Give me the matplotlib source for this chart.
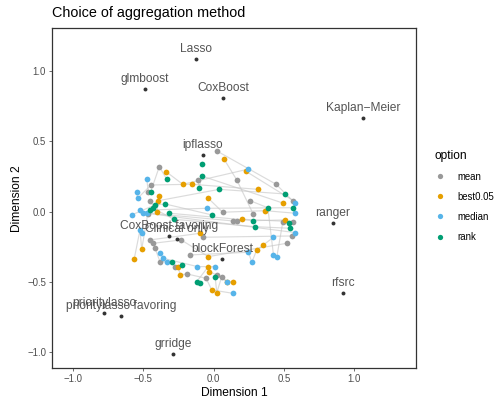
import numpy as np
import matplotlib
matplotlib.use('Agg')
import matplotlib.pyplot as plt
from matplotlib.lines import Line2D

plt.rcParams['font.family'] = ['Liberation Sans', 'DejaVu Sans']

# Labelled single methods (dark points)
method_names = ['Lasso', 'glmboost', 'CoxBoost', 'Kaplan\u2212Meier', 'ipflasso', 'ranger',
                'rfsrc', 'prioritylasso', 'prioritylasso favoring', 'grridge',
                'CoxBoost favoring', 'Clinical only', 'blockForest']
method_x = [-0.125, -0.49, 0.07, 1.066, -0.077, 0.846, 0.917, -0.78, -0.66, -0.286, -0.315, -0.258, 0.06]
method_y = [1.09, 0.87, 0.81, 0.667, 0.404, -0.08, -0.58, -0.72, -0.745, -1.016, -0.17, -0.196, -0.335]

# Aggregated combinations, one set per option (group = connected combos, 0 = none)
mean_x = [0.027, -0.386, -0.112, 0.165, 0.445, 0.568, -0.452, -0.464, 0.26, 0.065, 0.283, 0.137, 0.165,
          0.493, 0.564, -0.231, -0.073, 0.557, 0.521, -0.167, -0.452, -0.428, -0.416, -0.381, -0.274,
          -0.191, -0.053, 0.023, 0.058, -0.468, -0.445]
mean_y = [0.43, 0.32, 0.226, 0.226, 0.195, 0.078, 0.078, 0.142, 0.078, -0.004, -0.019, -0.066, -0.066,
          -0.071, -0.071, -0.201, -0.182, -0.173, -0.225, -0.308, -0.201, -0.225, -0.26, -0.356, -0.391,
          -0.443, -0.474, -0.451, -0.463, -0.016, 0.19]
mean_grp = [1, 16, 19, 2, 1, 17, 20, 16, 9, 18, 2, 5, 5,
            9, 5, 7, 6, 6, 7, 10, 6, 7, 14, 14, 14,
            11, 11, 13, 12, 15, 4]

best_x = [0.075, 0.229, 0.317, 0.497, 0.367, -0.037, -0.338, -0.219, -0.155, -0.386, -0.393, -0.404,
          -0.096, 0.201, 0.509, 0.354, -0.037, -0.511, -0.564, -0.251, -0.238, -0.037, -0.03, 0.094,
          0.141, -0.013, 0.023, 0.307]
best_y = [0.373, 0.288, 0.159, 0.06, 0.007, 0.095, 0.285, 0.195, 0.195, 0.112, 0.078, 0.0,
          -0.154, -0.054, -0.059, -0.237, -0.32, -0.268, -0.335, -0.391, -0.451, -0.391, -0.427, -0.498,
          -0.498, -0.557, -0.576, -0.273]
best_grp = [2, 17, 4, 19, 18, 18, 3, 3, 4, 20, 21, 20,
            6, 5, 23, 10, 7, 15, 15, 11, 11, 13, 13, 13,
            12, 11, 12, 10]

median_x = [0.243, -0.475, -0.547, -0.54, -0.582, -0.523, -0.5, -0.475, -0.523, -0.511, -0.048, 0.58,
            0.426, 0.58, 0.426, 0.45, 0.272, -0.381, -0.357, -0.333, -0.115, 0.011, 0.098, 0.137,
            0.248, 0.58]
median_y = [0.302, 0.231, 0.142, 0.095, -0.023, 0.012, -0.007, -0.011, -0.13, -0.149, 0.024, -0.011,
            -0.182, -0.149, -0.308, -0.32, -0.36, -0.296, -0.332, -0.356, -0.391, -0.391, -0.498, -0.581,
            -0.289, 0.06]
median_grp = [3, 16, 4, 4, 24, 25, 5, 25, 15, 0, 8, 18,
              10, 25, 9, 9, 10, 26, 26, 14, 26, 26, 12, 11,
              10, 1]

rank_x = [-0.082, -0.084, -0.101, 0.041, -0.333, -0.447, -0.428, -0.452, -0.315, 0.509, 0.568, 0.283,
          0.295, 0.54, 0.544, -0.298, -0.226, -0.12, -0.096, 0.011, -0.013, -0.345, -0.416, 0.386, -0.283]
rank_y = [0.34, 0.254, 0.171, 0.159, 0.231, 0.142, 0.024, 0.012, -0.011, 0.126, 0.028, -0.064,
          -0.107, -0.083, -0.118, -0.356, -0.379, -0.498, -0.505, -0.463, -0.023, 0.055, 0.048, 0.028, -0.054]
rank_grp = [0, 19, 19, 21, 16, 16, 22, 8, 23, 21, 8, 23,
            22, 23, 22, 14, 14, 13, 0, 12, 24, 24, 24, 9, 22]

options = ['mean', 'best0.05', 'median', 'rank']
option_colors = ['#999999', '#E69F00', '#56B4E9', '#009E73']
opt_x = [mean_x, best_x, median_x, rank_x]
opt_y = [mean_y, best_y, median_y, rank_y]
opt_grp = [mean_grp, best_grp, median_grp, rank_grp]

fig = plt.figure(figsize=(5.01, 3.99), dpi=100)
ax = fig.add_axes([0.1032, 0.0769, 0.7281, 0.8521])

# connecting lines between related combinations
all_x = np.concatenate([np.array(v, float) for v in opt_x])
all_y = np.concatenate([np.array(v, float) for v in opt_y])
all_g = np.concatenate([np.array(v, int) for v in opt_grp])
for g in np.unique(all_g):
    if g == 0:
        continue
    sel = all_g == g
    order = np.argsort(all_x[sel])
    ax.plot(all_x[sel][order], all_y[sel][order], color='#C4C4C4', alpha=0.6, lw=0.85, zorder=1)

for name, xs, ys, col in zip(options, opt_x, opt_y, option_colors):
    ax.scatter(xs, ys, s=17, color=col, linewidths=0, zorder=3)

ax.scatter(method_x, method_y, s=8, color='#333333', linewidths=0, zorder=4)
for name, x, y in zip(method_names, method_x, method_y):
    ax.annotate(name, (x, y), xytext=(0, 5), textcoords='offset points', ha='center',
                va='baseline', fontsize=8.65, color='#555555', zorder=5)

ax.set_xlim(-1.151, 1.443)
ax.set_ylim(-1.115, 1.305)
ax.set_xticks([-1.0, -0.5, 0.0, 0.5, 1.0])
ax.set_yticks([-1.0, -0.5, 0.0, 0.5, 1.0])
ax.set_xticklabels(['\u22121.0', '\u22120.5', '0.0', '0.5', '1.0'])
ax.set_yticklabels(['\u22121.0', '\u22120.5', '0.0', '0.5', '1.0'])
ax.tick_params(length=2.2, width=0.5, color='#333333', labelsize=6.9, labelcolor='#4D4D4D', pad=1.8)
for sp in ax.spines.values():
    sp.set_color('#333333')
    sp.set_linewidth(0.9)

ax.set_xlabel('Dimension 1', fontsize=8.65, labelpad=2.5)
ax.set_ylabel('Dimension 2', fontsize=8.65, labelpad=3)
ax.set_title('Choice of aggregation method', fontsize=10.4, loc='left', pad=8)

handles = [Line2D([], [], marker='o', linestyle='', markersize=3.8, markerfacecolor=c,
                  markeredgewidth=0) for c in option_colors]
leg = fig.legend(handles, options, loc='upper left', bbox_to_anchor=(0.868, 0.625),
                 frameon=False, title='option', alignment='left', fontsize=6.9,
                 title_fontsize=8.65, labelspacing=1.05, handlelength=1.0, handletextpad=1.3,
                 borderpad=0, borderaxespad=0)

fig.savefig('out.png', dpi=100)
